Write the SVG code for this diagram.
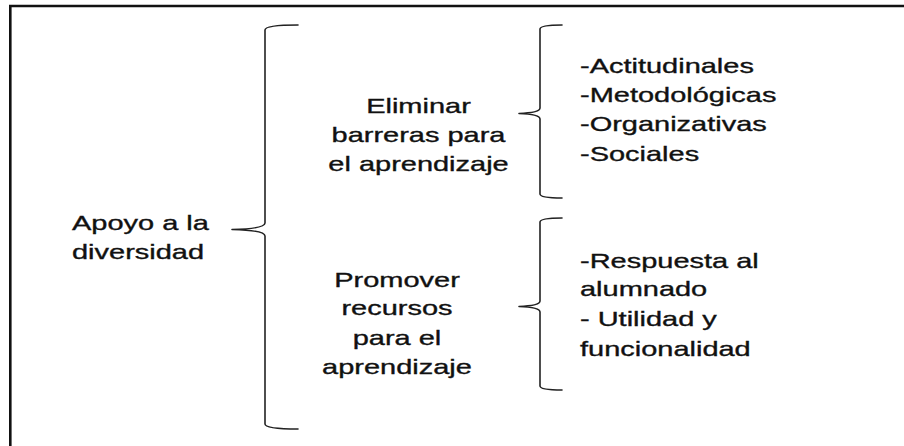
<svg xmlns="http://www.w3.org/2000/svg" width="904" height="446" viewBox="0 0 904 446">
<style>
.t{font-family:"Liberation Sans",Arial,sans-serif;font-size:21px;fill:#111;stroke:#111;stroke-width:0.35;}
.br{fill:none;stroke:#222;stroke-width:1.6;stroke-linejoin:round;stroke-linecap:round;}
.fr{fill:none;stroke:#111;stroke-width:2.6;}
</style>
<rect width="904" height="446" fill="#fff"/>
<g id="frame">
<path class="fr" d="M10.3,446 L10.3,6 L904,6"/>
</g>
<g id="connectors">
<path class="br" d="M298,25 C280,25 265,26 265,30 L265,223 C265,227 252,229 232,229.5 C252,230 265,232 265,236 L265,424 C265,428 280,429 298,429"/>
<path class="br" d="M562,25 C550,25 540,26 540,29 L540,108 C540,111 532,113 519,113.5 C532,114 540,116 540,119 L540,194 C540,197 550,198 562,198"/>
<path class="br" d="M562,218 C550,218 540,219 540,222 L540,301 C540,304 532,306 519,306.5 C532,307 540,309 540,312 L540,386 C540,389 550,390 562,390"/>
</g>
<g id="node-apoyo">
<text class="t" transform="translate(72,230) scale(1.38,1)"><tspan x="0" y="0">Apoyo a la</tspan><tspan x="0" y="29">diversidad</tspan></text>
</g>
<g id="node-eliminar">
<text class="t" text-anchor="middle" transform="translate(418.5,113) scale(1.38,1)"><tspan x="0" y="0">Eliminar</tspan><tspan x="0" y="29.5">barreras para</tspan><tspan x="0" y="58">el aprendizaje</tspan></text>
</g>
<g id="node-promover">
<text class="t" text-anchor="middle" transform="translate(397,286.5) scale(1.38,1)"><tspan x="0" y="0">Promover</tspan><tspan x="0" y="29">recursos</tspan><tspan x="0" y="58.5">para el</tspan><tspan x="0" y="87.5">aprendizaje</tspan></text>
</g>
<g id="node-barreras-lista">
<text class="t" transform="translate(580,73) scale(1.38,1)"><tspan x="0" y="0">-Actitudinales</tspan><tspan x="0" y="29">-Metodológicas</tspan><tspan x="0" y="58.5">-Organizativas</tspan><tspan x="0" y="88">-Sociales</tspan></text>
</g>
<g id="node-recursos-lista">
<text class="t" transform="translate(580,268) scale(1.38,1)"><tspan x="0" y="0">-Respuesta al</tspan><tspan x="0" y="28.5">alumnado</tspan><tspan x="0" y="58.5">- Utilidad y</tspan><tspan x="0" y="88">funcionalidad</tspan></text>
</g>
</svg>
